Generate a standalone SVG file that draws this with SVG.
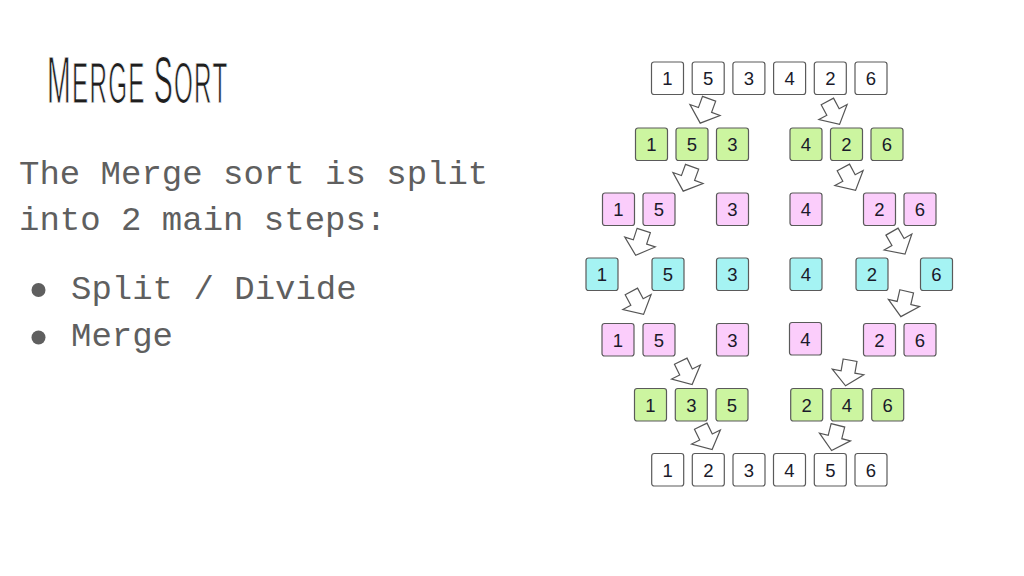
<svg xmlns="http://www.w3.org/2000/svg" xmlns:xlink="http://www.w3.org/1999/xlink" width="1024" height="576" viewBox="0 0 1024 576">
<style>
.title{font-family:"Liberation Sans","DejaVu Sans",sans-serif;fill:#1e1e1e;stroke:#ffffff;stroke-width:1.1;paint-order:normal;letter-spacing:3px}
.body{font-family:"Liberation Mono","DejaVu Sans Mono",monospace;font-size:34px;fill:#5f5f5f}
.bx{stroke:#5a5a5a;stroke-width:1.2}
.w{fill:#ffffff}.g{fill:#ccf5a0}.p{fill:#fbcdfb}.c{fill:#a5f3f3}
.lbl{font-family:"Liberation Sans",Arial,sans-serif;font-size:18.5px;fill:#1a1a2a;text-anchor:middle}
.arr{fill:#ffffff;stroke:#555555;stroke-width:1.2;stroke-linejoin:miter}
</style>
<defs>
<path id="arrow" class="arr" d="M-7,-12 H7 V0 H16 L0,14 L-16,0 H-7 Z"/>
<rect id="box" class="bx" width="32" height="32.5" rx="2.5"/>
</defs>
<rect width="1024" height="576" fill="#ffffff"/>

<g id="title">
<text class="title" transform="translate(47,103) scale(0.425,1)"><tspan font-size="67">M</tspan><tspan font-size="57">ERGE </tspan><tspan font-size="67">S</tspan><tspan font-size="57">ORT</tspan></text>
</g>

<g id="description">
<text class="body" x="19" y="183.5">The Merge sort is split</text>
<text class="body" x="19" y="230">into 2 main steps:</text>
<circle cx="38.5" cy="290" r="7" fill="#5f5f5f"/>
<text class="body" x="71" y="299">Split / Divide</text>
<circle cx="38.5" cy="337.5" r="7" fill="#5f5f5f"/>
<text class="body" x="71" y="346">Merge</text>
</g>

<g id="connectors">
<use xlink:href="#arrow" transform="translate(705,110) rotate(20)"/>
<use xlink:href="#arrow" transform="translate(833,112) rotate(-28)"/>
<use xlink:href="#arrow" transform="translate(688,178) rotate(20)"/>
<use xlink:href="#arrow" transform="translate(849,178) rotate(-28)"/>
<use xlink:href="#arrow" transform="translate(640,242) rotate(18)"/>
<use xlink:href="#arrow" transform="translate(898,242) rotate(-30)"/>
<use xlink:href="#arrow" transform="translate(637,302) rotate(-28)"/>
<use xlink:href="#arrow" transform="translate(904,303) rotate(13)"/>
<use xlink:href="#arrow" transform="translate(686,372) rotate(-26)"/>
<use xlink:href="#arrow" transform="translate(848,372) rotate(10)"/>
<use xlink:href="#arrow" transform="translate(706,437) rotate(-26)"/>
<use xlink:href="#arrow" transform="translate(835,437) rotate(14)"/>
</g>

<g id="row1">
<g id="a1" transform="translate(651.5,62)"><use xlink:href="#box" class="w"/><text class="lbl" x="16" y="23">1</text></g>
<g id="a2" transform="translate(692.2,62)"><use xlink:href="#box" class="w"/><text class="lbl" x="16" y="23">5</text></g>
<g id="a3" transform="translate(732.9,62)"><use xlink:href="#box" class="w"/><text class="lbl" x="16" y="23">3</text></g>
<g id="a4" transform="translate(773.6,62)"><use xlink:href="#box" class="w"/><text class="lbl" x="16" y="23">4</text></g>
<g id="a5" transform="translate(814.3,62)"><use xlink:href="#box" class="w"/><text class="lbl" x="16" y="23">2</text></g>
<g id="a6" transform="translate(855,62)"><use xlink:href="#box" class="w"/><text class="lbl" x="16" y="23">6</text></g>
</g>

<g id="row2">
<g id="b1" transform="translate(635.5,128)"><use xlink:href="#box" class="g"/><text class="lbl" x="16" y="23">1</text></g>
<g id="b2" transform="translate(676,128)"><use xlink:href="#box" class="g"/><text class="lbl" x="16" y="23">5</text></g>
<g id="b3" transform="translate(716.5,128)"><use xlink:href="#box" class="g"/><text class="lbl" x="16" y="23">3</text></g>
<g id="b4" transform="translate(790,128)"><use xlink:href="#box" class="g"/><text class="lbl" x="16" y="23">4</text></g>
<g id="b5" transform="translate(830.5,128)"><use xlink:href="#box" class="g"/><text class="lbl" x="16" y="23">2</text></g>
<g id="b6" transform="translate(871,128)"><use xlink:href="#box" class="g"/><text class="lbl" x="16" y="23">6</text></g>
</g>

<g id="row3">
<g id="c1" transform="translate(602.5,193)"><use xlink:href="#box" class="p"/><text class="lbl" x="16" y="23">1</text></g>
<g id="c2" transform="translate(643,193)"><use xlink:href="#box" class="p"/><text class="lbl" x="16" y="23">5</text></g>
<g id="c3" transform="translate(716.5,193)"><use xlink:href="#box" class="p"/><text class="lbl" x="16" y="23">3</text></g>
<g id="c4" transform="translate(790,193)"><use xlink:href="#box" class="p"/><text class="lbl" x="16" y="23">4</text></g>
<g id="c5" transform="translate(863.5,193)"><use xlink:href="#box" class="p"/><text class="lbl" x="16" y="23">2</text></g>
<g id="c6" transform="translate(904,193)"><use xlink:href="#box" class="p"/><text class="lbl" x="16" y="23">6</text></g>
</g>

<g id="row4">
<g id="d1" transform="translate(586,258)"><use xlink:href="#box" class="c"/><text class="lbl" x="16" y="23">1</text></g>
<g id="d2" transform="translate(652,258)"><use xlink:href="#box" class="c"/><text class="lbl" x="16" y="23">5</text></g>
<g id="d3" transform="translate(716.5,258)"><use xlink:href="#box" class="c"/><text class="lbl" x="16" y="23">3</text></g>
<g id="d4" transform="translate(790,258)"><use xlink:href="#box" class="c"/><text class="lbl" x="16" y="23">4</text></g>
<g id="d5" transform="translate(856,258)"><use xlink:href="#box" class="c"/><text class="lbl" x="16" y="23">2</text></g>
<g id="d6" transform="translate(920.5,258)"><use xlink:href="#box" class="c"/><text class="lbl" x="16" y="23">6</text></g>
</g>

<g id="row5">
<g id="e1" transform="translate(602,323.5)"><use xlink:href="#box" class="p"/><text class="lbl" x="16" y="23">1</text></g>
<g id="e2" transform="translate(643,323.5)"><use xlink:href="#box" class="p"/><text class="lbl" x="16" y="23">5</text></g>
<g id="e3" transform="translate(716.5,323.5)"><use xlink:href="#box" class="p"/><text class="lbl" x="16" y="23">3</text></g>
<g id="e4" transform="translate(789.5,322.5)"><use xlink:href="#box" class="p"/><text class="lbl" x="16" y="23">4</text></g>
<g id="e5" transform="translate(863.5,323.5)"><use xlink:href="#box" class="p"/><text class="lbl" x="16" y="23">2</text></g>
<g id="e6" transform="translate(904,323.5)"><use xlink:href="#box" class="p"/><text class="lbl" x="16" y="23">6</text></g>
</g>

<g id="row6">
<g id="f1" transform="translate(634.5,388.5)"><use xlink:href="#box" class="g"/><text class="lbl" x="16" y="23">1</text></g>
<g id="f2" transform="translate(675.3,388.5)"><use xlink:href="#box" class="g"/><text class="lbl" x="16" y="23">3</text></g>
<g id="f3" transform="translate(716,388.5)"><use xlink:href="#box" class="g"/><text class="lbl" x="16" y="23">5</text></g>
<g id="f4" transform="translate(790.7,388.5)"><use xlink:href="#box" class="g"/><text class="lbl" x="16" y="23">2</text></g>
<g id="f5" transform="translate(831,388.5)"><use xlink:href="#box" class="g"/><text class="lbl" x="16" y="23">4</text></g>
<g id="f6" transform="translate(871.7,388.5)"><use xlink:href="#box" class="g"/><text class="lbl" x="16" y="23">6</text></g>
</g>

<g id="row7">
<g id="h1" transform="translate(651.7,453.5)"><use xlink:href="#box" class="w"/><text class="lbl" x="16" y="23">1</text></g>
<g id="h2" transform="translate(692.3,453.5)"><use xlink:href="#box" class="w"/><text class="lbl" x="16" y="23">2</text></g>
<g id="h3" transform="translate(733,453.5)"><use xlink:href="#box" class="w"/><text class="lbl" x="16" y="23">3</text></g>
<g id="h4" transform="translate(773.5,453.5)"><use xlink:href="#box" class="w"/><text class="lbl" x="16" y="23">4</text></g>
<g id="h5" transform="translate(814.3,453.5)"><use xlink:href="#box" class="w"/><text class="lbl" x="16" y="23">5</text></g>
<g id="h6" transform="translate(855,453.5)"><use xlink:href="#box" class="w"/><text class="lbl" x="16" y="23">6</text></g>
</g>
</svg>
